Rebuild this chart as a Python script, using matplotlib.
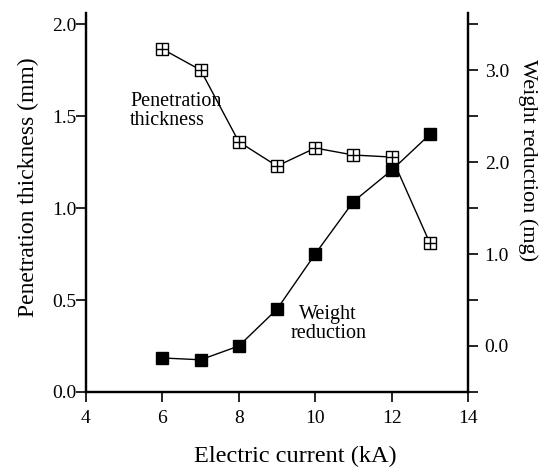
import matplotlib

matplotlib.use("Agg")

import matplotlib.pyplot as plt
from matplotlib.ticker import MultipleLocator

current = [6, 7, 8, 9, 10, 11, 12, 13]
penetration = [1.864, 1.75, 1.36, 1.228, 1.326, 1.288, 1.277, 0.81]
weight_loss = [-0.13, -0.15, 0.0, 0.40, 1.0, 1.57, 1.91, 2.30]

plt.rcParams["font.family"] = ["Liberation Serif", "DejaVu Serif"]

fig = plt.figure(figsize=(5.49, 4.69), dpi=100)
ax = fig.add_axes([0.1566, 0.1642, 0.6959, 0.8081])
ax2 = ax.twinx()

# penetration: open squares with a cross inside
ax.plot(current, penetration, color="black", lw=1.0, marker="s", ms=8,
        mfc="white", mec="black", mew=1.0, zorder=3)
ax.plot(current, penetration, ls="none", marker="+", ms=8, mec="black",
        mew=1.0, zorder=4)

ax2.plot(current, weight_loss, color="black", lw=1.0, marker="s", ms=9,
         mfc="black", mec="black", zorder=3)

ax.set_xlim(4, 14)
ax.set_ylim(0, 2.06)
ax2.set_ylim(-0.5, 3.62)

ax.xaxis.set_major_locator(MultipleLocator(2))
ax.yaxis.set_major_locator(MultipleLocator(0.5))
ax2.yaxis.set_major_locator(MultipleLocator(1.0))
ax2.yaxis.set_minor_locator(MultipleLocator(0.5))

ax.yaxis.set_major_formatter(lambda v, p: f"{v:.1f}")
ax2.yaxis.set_major_formatter(lambda v, p: f"{v:.1f}")

for a in (ax, ax2):
    a.spines["top"].set_visible(False)
    for s in ("left", "right", "bottom"):
        a.spines[s].set_linewidth(1.6)
    a.tick_params(direction="out", length=7, width=1.2, labelsize=14)
    a.tick_params(which="minor", direction="out", length=7, width=1.2)
ax.tick_params(axis="y", pad=0)
ax.tick_params(axis="x", pad=6)
ax2.tick_params(axis="y", pad=5)

ax.set_xlabel("Electric current (kA)", fontsize=17.5)
ax.set_ylabel("Penetration thickness (mm)", fontsize=17)
ax2.set_ylabel("Weight reduction (mg)", fontsize=16, rotation=270,
               va="center")
ax.xaxis.set_label_coords(0.547, -0.142)
ax.yaxis.set_label_coords(-0.122, 0.54)
ax2.yaxis.set_label_coords(1.157, 0.612)

ax.text(5.16, 1.53, "Penetration\nthickness", fontsize=14.5, ha="left",
        va="center", linespacing=1.0)
ax.text(10.34, 0.37, "Weight\nreduction", fontsize=14.5, ha="center",
        va="center", linespacing=1.0)

fig.savefig("out.png", dpi=100)
plt.close(fig)
